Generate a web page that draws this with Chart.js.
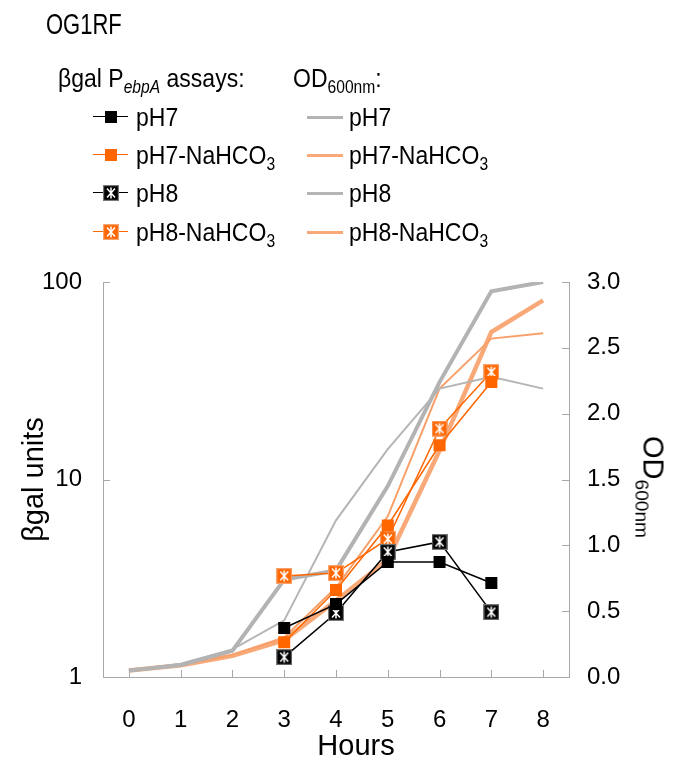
<!DOCTYPE html>
<html>
<head>
<meta charset="utf-8">
<script src="https://cdn.jsdelivr.net/npm/chart.js@4.4.1/dist/chart.umd.min.js"></script>
<style>
  body { margin: 0; background: #fff; }
  #wrap { position: relative; width: 685px; height: 775px; font-family: "Liberation Sans", Arial, sans-serif; color: #000; }
  #wrap canvas#chart { position: absolute; left: 0; top: 0; }
  .lbl { position: absolute; font-size: 23px; line-height: 24px; white-space: nowrap; transform: translateY(-50%) scaleY(1.15); transform-origin: left center; }
  .lbl sub { font-size: 0.68em; vertical-align: -0.35em; line-height: 0; }
  .smp { position: absolute; height: 0; }
  .odtitle { position: absolute; left: 653px; top: 487px; font-size: 29px; white-space: nowrap; transform: translate(-50%, -50%) rotate(90deg); }
  .odtitle sub { font-size: 0.66em; vertical-align: -0.4em; line-height: 0; }
  .xtitle { position: absolute; left: 356px; top: 745px; font-size: 29px; white-space: nowrap; transform: translate(-50%, -50%); }
</style>
</head>
<body>
<div id="wrap">
  <canvas id="chart" width="685" height="775"></canvas>
  <div id="legend"></div>
  <div class="odtitle">OD<sub>600nm</sub></div>
  <div class="xtitle">Hours</div>
</div>
<script>
// hours on the x axis
const hours = ['0', '1', '2', '3', '4', '5', '6', '7', '8'];

// beta-gal P_ebpA assays (left log axis)
const galPH7 = [null, null, null, 1.77, 2.34, 3.82, 3.82, 2.99, null];
const galPH7Bicarb = [null, null, null, 1.50, 2.76, 5.85, 14.9, 31.2, null];
const galPH8 = [null, null, null, 1.26, 2.11, 4.30, 4.83, 2.13, null];
const galPH8Bicarb = [null, null, null, 3.25, 3.36, 5.00, 18.1, 35.0, null];

// OD600nm growth (right axis)
const odPH7 = [0.05, 0.09, 0.20, 0.74, 0.81, 1.45, 2.24, 2.93, 3.00];
const odPH8 = [0.05, 0.10, 0.21, 0.43, 1.19, 1.73, 2.19, 2.28, 2.19];
const odPH7Bicarb = [0.05, 0.09, 0.16, 0.28, 0.58, 0.89, 1.72, 2.62, 2.86];
const odPH8Bicarb = [0.05, 0.09, 0.17, 0.30, 0.68, 1.22, 2.19, 2.57, 2.61];

// axis ticks
const galTicks = [1, 10, 100];
const odTicks = [0, 0.5, 1.0, 1.5, 2.0, 2.5, 3.0];

const ORANGE = '#ff6600';
const AXIS = '#a8a8a8';

function starBox(fill, edge) {
  const c = document.createElement('canvas');
  c.width = 16; c.height = 16;
  const g = c.getContext('2d');
  g.fillStyle = fill;
  g.fillRect(0, 0, 16, 16);
  g.strokeStyle = edge;
  g.lineWidth = 1.2;
  g.strokeRect(0.6, 0.6, 14.8, 14.8);
  g.strokeStyle = '#fff';
  g.lineWidth = 1.5;
  g.beginPath();
  g.moveTo(4, 3.5); g.lineTo(12, 12.5);
  g.moveTo(12, 3.5); g.lineTo(4, 12.5);
  g.moveTo(8, 2.5); g.lineTo(8, 13.5);
  g.stroke();
  return c;
}

// little inward tick marks like the original
const innerTicks = {
  id: 'innerTicks',
  afterDraw(chart) {
    const ctx = chart.ctx;
    const a = chart.chartArea;
    const x = chart.scales.x, y = chart.scales.y, y1 = chart.scales.y1;
    ctx.save();
    ctx.strokeStyle = AXIS;
    ctx.lineWidth = 1;
    ctx.beginPath();
    hours.forEach((h, i) => {
      const px = Math.round(x.getPixelForValue(i)) + 0.5;
      ctx.moveTo(px, a.bottom); ctx.lineTo(px, a.bottom - 7);
    });
    galTicks.forEach(v => {
      const py = Math.round(y.getPixelForValue(v)) + 0.5;
      ctx.moveTo(a.left, py); ctx.lineTo(a.left + 7, py);
    });
    odTicks.forEach(v => {
      const py = Math.round(y1.getPixelForValue(v)) + 0.5;
      ctx.moveTo(a.right, py); ctx.lineTo(a.right - 7, py);
    });
    ctx.stroke();
    ctx.restore();
  }
};

document.addEventListener('DOMContentLoaded', () => {
  const blackStar = starBox('#000', '#777');
  const orangeStar = starBox(ORANGE, '#f9a470');

  const galSet = (label, data, color, style) => ({
    label: label,
    data: data,
    yAxisID: 'y',
    borderColor: color,
    backgroundColor: color,
    borderWidth: 1.5,
    pointStyle: style,
    pointRadius: 8.5,
    pointBorderWidth: 0,
    tension: 0,
    order: 0
  });

  const odSet = (label, data, color, width) => ({
    label: label,
    data: data,
    yAxisID: 'y1',
    borderColor: color,
    borderWidth: width,
    pointRadius: 0,
    tension: 0,
    order: 1
  });

  new Chart(document.getElementById('chart'), {
    type: 'line',
    data: {
      labels: hours,
      datasets: [
        odSet('OD pH7', odPH7, '#b3b3b3', 4),
        odSet('OD pH8', odPH8, '#b5b5b5', 2),
        odSet('OD pH7-NaHCO3', odPH7Bicarb, 'rgba(248,160,105,0.9)', 4.5),
        odSet('OD pH8-NaHCO3', odPH8Bicarb, 'rgba(247,150,90,0.9)', 2),
        galSet('pH7', galPH7, '#000', 'rect'),
        galSet('pH7-NaHCO3', galPH7Bicarb, ORANGE, 'rect'),
        galSet('pH8', galPH8, '#000', blackStar),
        galSet('pH8-NaHCO3', galPH8Bicarb, ORANGE, orangeStar)
      ]
    },
    options: {
      responsive: false,
      animation: false,
      layout: { padding: { top: 282, left: 0, right: 0, bottom: 0 } },
      plugins: { legend: { display: false }, tooltip: { enabled: false } },
      scales: {
        x: {
          type: 'category',
          offset: true,
          grid: { display: false },
          border: { display: true, color: AXIS, width: 1 },
          ticks: { color: '#000', padding: 21, font: { size: 24, family: 'Liberation Sans, Arial' } },
          afterFit: s => { s.height = 98; }
        },
        y: {
          type: 'logarithmic',
          position: 'left',
          min: 1,
          max: 100,
          grid: { display: false },
          border: { display: true, color: AXIS, width: 1 },
          afterBuildTicks: s => { s.ticks = galTicks.map(v => ({ value: v })); },
          ticks: { color: '#000', padding: 13, callback: v => String(v), font: { size: 24, family: 'Liberation Sans, Arial' } },
          title: { display: true, text: 'βgal units', color: '#000', padding: { top: 18, bottom: 0 }, font: { size: 29, family: 'Liberation Sans, Arial' } },
          afterFit: s => { s.width = 103; }
        },
        y1: {
          type: 'linear',
          position: 'right',
          min: 0,
          max: 3,
          grid: { display: false },
          border: { display: true, color: AXIS, width: 1 },
          afterBuildTicks: s => { s.ticks = odTicks.map(v => ({ value: v })); },
          ticks: { color: '#000', padding: 10, callback: v => Number(v).toFixed(1), font: { size: 24, family: 'Liberation Sans, Arial' } },
          afterFit: s => { s.width = 116; }
        }
      }
    },
    plugins: [innerTicks]
  });

  // hand-built two column legend
  const legend = document.getElementById('legend');
  const add = (html) => { legend.insertAdjacentHTML('beforeend', html); };

  add('<div class="lbl" style="left:46px;top:25px;font-size:22px;transform:translateY(-50%) scaleY(1.3);">OG1RF</div>');
  add('<div class="lbl" style="left:58px;top:78px;">βgal P<sub><i>ebpA</i></sub> assays:</div>');
  add('<div class="lbl" style="left:293px;top:78px;">OD<sub>600nm</sub>:</div>');

  const rows = [117, 155, 193, 232];
  const galNames = ['pH7', 'pH7-NaHCO<sub>3</sub>', 'pH8', 'pH8-NaHCO<sub>3</sub>'];
  const galColors = ['#000', ORANGE, '#000', ORANGE];
  const odColors = ['#b3b3b3', 'rgba(248,160,105,0.9)', '#b5b5b5', 'rgba(248,160,105,0.9)'];

  rows.forEach((y, i) => {
    add(`<div class="smp" style="left:93px;top:${y - 1}px;width:35px;border-top:1.5px solid ${galColors[i]};"></div>`);
    if (i < 2) {
      add(`<div style="position:absolute;left:${111 - 6}px;top:${y - 6}px;width:12px;height:12px;background:${galColors[i]};"></div>`);
    } else {
      const c = starBox(galColors[i], i === 2 ? '#777' : '#f9a470');
      c.style.position = 'absolute';
      c.style.left = (111 - 8) + 'px';
      c.style.top = (y - 8) + 'px';
      c.style.width = '16px';
      c.style.height = '16px';
      legend.appendChild(c);
    }
    add(`<div class="lbl" style="left:136px;top:${y}px;">${galNames[i]}</div>`);

    add(`<div class="smp" style="left:307px;top:${y - 1.5}px;width:36px;border-top:3px solid ${odColors[i]};"></div>`);
    add(`<div class="lbl" style="left:349px;top:${y}px;">${galNames[i]}</div>`);
  });
});
</script>
</body>
</html>
